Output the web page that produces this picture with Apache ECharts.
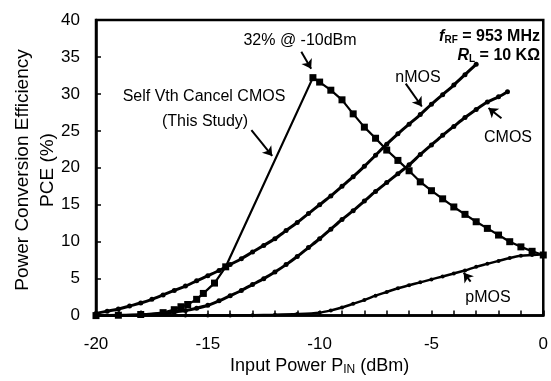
<!DOCTYPE html>
<html>
<head>
<meta charset="utf-8">
<script src="https://cdn.jsdelivr.net/npm/echarts@6/dist/echarts.min.js"></script>
<style>
  html, body { margin: 0; padding: 0; background: #fff; }
  #chart { width: 551px; height: 381px; }
</style>
</head>
<body>
<div id="chart"></div>
<script>
// Self Vth Cancel CMOS (this study)
const selfX = [-20, -19, -18, -17, -16.5, -16.2, -15.9, -15.5, -15.2, -14.7, -14.2,
  -10.3, -10, -9.5, -9, -8.5, -8, -7.5, -7, -6.5, -6, -5.5, -5, -4.5, -4, -3.5, -3, -2.5, -2, -1.5, -1, -0.5, 0];
const selfY = [0, 0.05, 0.15, 0.4, 0.8, 1.2, 1.5, 2.2, 3.0, 4.4, 6.6,
  32.2, 31.6, 30.5, 29.2, 27.3, 25.5, 24.0, 22.4, 21.0, 19.6, 18.1, 16.9, 15.8, 14.7, 13.7, 12.7, 11.8, 10.9, 10.0, 9.3, 8.7, 8.2];

const nmosX = [-20, -19.5, -19, -18.5, -18, -17.5, -17, -16.5, -16, -15.5, -15, -14.5, -14, -13.5, -13, -12.5, -12,
  -11.5, -11, -10.5, -10, -9.5, -9, -8.5, -8, -7.5, -7, -6.5, -6, -5.5, -5, -4.5, -4, -3.5, -3];
const nmosY = [0.3, 0.6, 0.9, 1.3, 1.7, 2.2, 2.8, 3.4, 4.0, 4.7, 5.4, 6.1, 6.9, 7.7, 8.6, 9.5, 10.4,
  11.5, 12.6, 13.8, 15.0, 16.2, 17.5, 18.8, 20.2, 21.7, 23.2, 24.6, 25.9, 27.2, 28.6, 29.9, 31.2, 32.6, 34.0];

const cmosX = [-20, -19, -18, -17, -16.5, -16, -15.5, -15, -14.5, -14, -13.5, -13, -12.5, -12, -11.5, -11, -10.5,
  -10, -9.5, -9, -8.5, -8, -7.5, -7, -6.5, -6, -5.5, -5, -4.5, -4, -3.5, -3, -2.5, -2, -1.6];
const cmosY = [0, 0.05, 0.1, 0.3, 0.5, 0.7, 1.0, 1.4, 2.0, 2.7, 3.4, 4.2, 5.0, 5.9, 6.9, 8.0, 9.2,
  10.4, 11.7, 13.0, 14.2, 15.5, 16.8, 18.0, 19.2, 20.4, 21.8, 23.1, 24.4, 25.6, 26.8, 27.9, 28.9, 29.6, 30.3];

const pmosX = [-20, -18, -16, -15, -14, -13, -12, -11, -10, -9.5, -9, -8.5, -8, -7.5, -7, -6.5, -6, -5.5, -5,
  -4.5, -4, -3.5, -3, -2.5, -2, -1.5, -1, -0.5, 0];
const pmosY = [0, 0, 0, 0, 0.02, 0.05, 0.1, 0.2, 0.4, 0.7, 1.1, 1.6, 2.1, 2.7, 3.2, 3.7, 4.1, 4.5, 4.9,
  5.3, 5.7, 6.1, 6.6, 7.0, 7.4, 7.8, 8.1, 8.2, 8.3];

const xTicks = [-20, -15, -10, -5, 0];

// annotation arrows [fromX, fromY, toX, toY]
const arrows = [
  [-10.82, 35.7, -10.38, 33.4],
  [-13.05, 25.1, -12.12, 21.6],
  [-6.15, 31.4, -5.43, 28.3],
  [-1.87, 26.7, -2.45, 28.1],
  [-3.25, 4.6, -3.56, 5.8]
];

const pairs = (xs, ys) => xs.map((x, i) => [x, ys[i]]);
const FONT = '"Liberation Sans", Arial, sans-serif';

const chart = echarts.init(document.getElementById('chart'));
chart.setOption({
  animation: false,
  textStyle: { fontFamily: FONT, color: '#000' },
  grid: {
    left: 96, right: 6, top: 20, bottom: 62,
    show: true, borderColor: '#000', borderWidth: 2.5
  },
  xAxis: {
    type: 'value',
    min: -20, max: 0, interval: 1,
    splitLine: { show: false },
    axisLine: { onZero: false, lineStyle: { color: '#000', width: 2.5 } },
    axisTick: { inside: true, length: 5, lineStyle: { color: '#000', width: 1.5 } },
    axisLabel: {
      margin: 20, fontSize: 17, color: '#000', fontFamily: FONT,
      formatter: v => xTicks.indexOf(v) >= 0 ? String(v) : ''
    },
    name: 'Input Power P{s|IN} (dBm)',
    nameLocation: 'middle',
    nameGap: 38,
    nameTextStyle: {
      fontSize: 18, color: '#000', fontFamily: FONT,
      rich: { s: { fontSize: 12, color: '#000', fontFamily: FONT, padding: [7, 0, 0, 0] } }
    }
  },
  yAxis: {
    type: 'value',
    min: 0, max: 40, interval: 5,
    splitLine: { show: false },
    axisLine: { onZero: false, lineStyle: { color: '#000', width: 2.5 } },
    axisTick: { inside: true, length: 5, lineStyle: { color: '#000', width: 1.5 } },
    axisLabel: { margin: 16, fontSize: 17, color: '#000', fontFamily: FONT }
  },
  series: [
    {
      name: 'Self Vth Cancel CMOS', type: 'line',
      data: pairs(selfX, selfY),
      symbol: 'rect', symbolSize: 7,
      itemStyle: { color: '#000' },
      lineStyle: { color: '#000', width: 2.2 },
      markLine: {
        silent: true,
        symbol: ['none', 'arrow'], symbolSize: 9,
        label: { show: false },
        lineStyle: { color: '#000', width: 2, type: 'solid' },
        data: arrows.map(a => [{ coord: [a[0], a[1]] }, { coord: [a[2], a[3]] }])
      }
    },
    {
      name: 'nMOS', type: 'line',
      data: pairs(nmosX, nmosY),
      smooth: 0.3,
      symbol: 'circle', symbolSize: 5,
      itemStyle: { color: '#000' },
      lineStyle: { color: '#000', width: 3 }
    },
    {
      name: 'CMOS', type: 'line',
      data: pairs(cmosX, cmosY),
      smooth: 0.3,
      symbol: 'circle', symbolSize: 5,
      itemStyle: { color: '#000' },
      lineStyle: { color: '#000', width: 3 }
    },
    {
      name: 'pMOS', type: 'line',
      data: pairs(pmosX, pmosY),
      smooth: 0.3,
      symbol: 'circle', symbolSize: 4,
      itemStyle: { color: '#000' },
      lineStyle: { color: '#000', width: 2.5 }
    }
  ],
  graphic: [
    { type: 'text', x: 23, y: 170, rotation: Math.PI / 2,
      style: { text: 'Power Conversion Efficiency', font: '19px ' + FONT, fill: '#000', align: 'center', verticalAlign: 'middle' } },
    { type: 'text', x: 48, y: 170, rotation: Math.PI / 2,
      style: { text: 'PCE (%)', font: '19px ' + FONT, fill: '#000', align: 'center', verticalAlign: 'middle' } },
    { type: 'text', x: 300, y: 41,
      style: { text: '32% @ -10dBm', font: '16px ' + FONT, fill: '#000', align: 'center', verticalAlign: 'middle' } },
    { type: 'text', x: 204, y: 97,
      style: { text: 'Self Vth Cancel CMOS', font: '16px ' + FONT, fill: '#000', align: 'center', verticalAlign: 'middle' } },
    { type: 'text', x: 205, y: 122,
      style: { text: '(This Study)', font: '16px ' + FONT, fill: '#000', align: 'center', verticalAlign: 'middle' } },
    { type: 'text', x: 418, y: 78,
      style: { text: 'nMOS', font: '16px ' + FONT, fill: '#000', align: 'center', verticalAlign: 'middle' } },
    { type: 'text', x: 508, y: 138,
      style: { text: 'CMOS', font: '16px ' + FONT, fill: '#000', align: 'center', verticalAlign: 'middle' } },
    { type: 'text', x: 488, y: 298,
      style: { text: 'pMOS', font: '16px ' + FONT, fill: '#000', align: 'center', verticalAlign: 'middle' } },
    { type: 'text', x: 540, y: 37,
      style: {
        text: '{i|f}{s|RF}{b| = 953 MHz}', align: 'right', verticalAlign: 'middle',
        rich: {
          i: { font: 'italic bold 16px ' + FONT, fill: '#000' },
          s: { font: 'bold 10px ' + FONT, fill: '#000', padding: [7, 0, 0, 0] },
          b: { font: 'bold 16px ' + FONT, fill: '#000' }
        }
      } },
    { type: 'text', x: 540, y: 56,
      style: {
        text: '{i|R}{s|L}{b| = 10 KΩ}', align: 'right', verticalAlign: 'middle',
        rich: {
          i: { font: 'italic bold 16px ' + FONT, fill: '#000' },
          s: { font: 'bold 10px ' + FONT, fill: '#000', padding: [7, 0, 0, 0] },
          b: { font: 'bold 16px ' + FONT, fill: '#000' }
        }
      } }
  ]
});
</script>
</body>
</html>
